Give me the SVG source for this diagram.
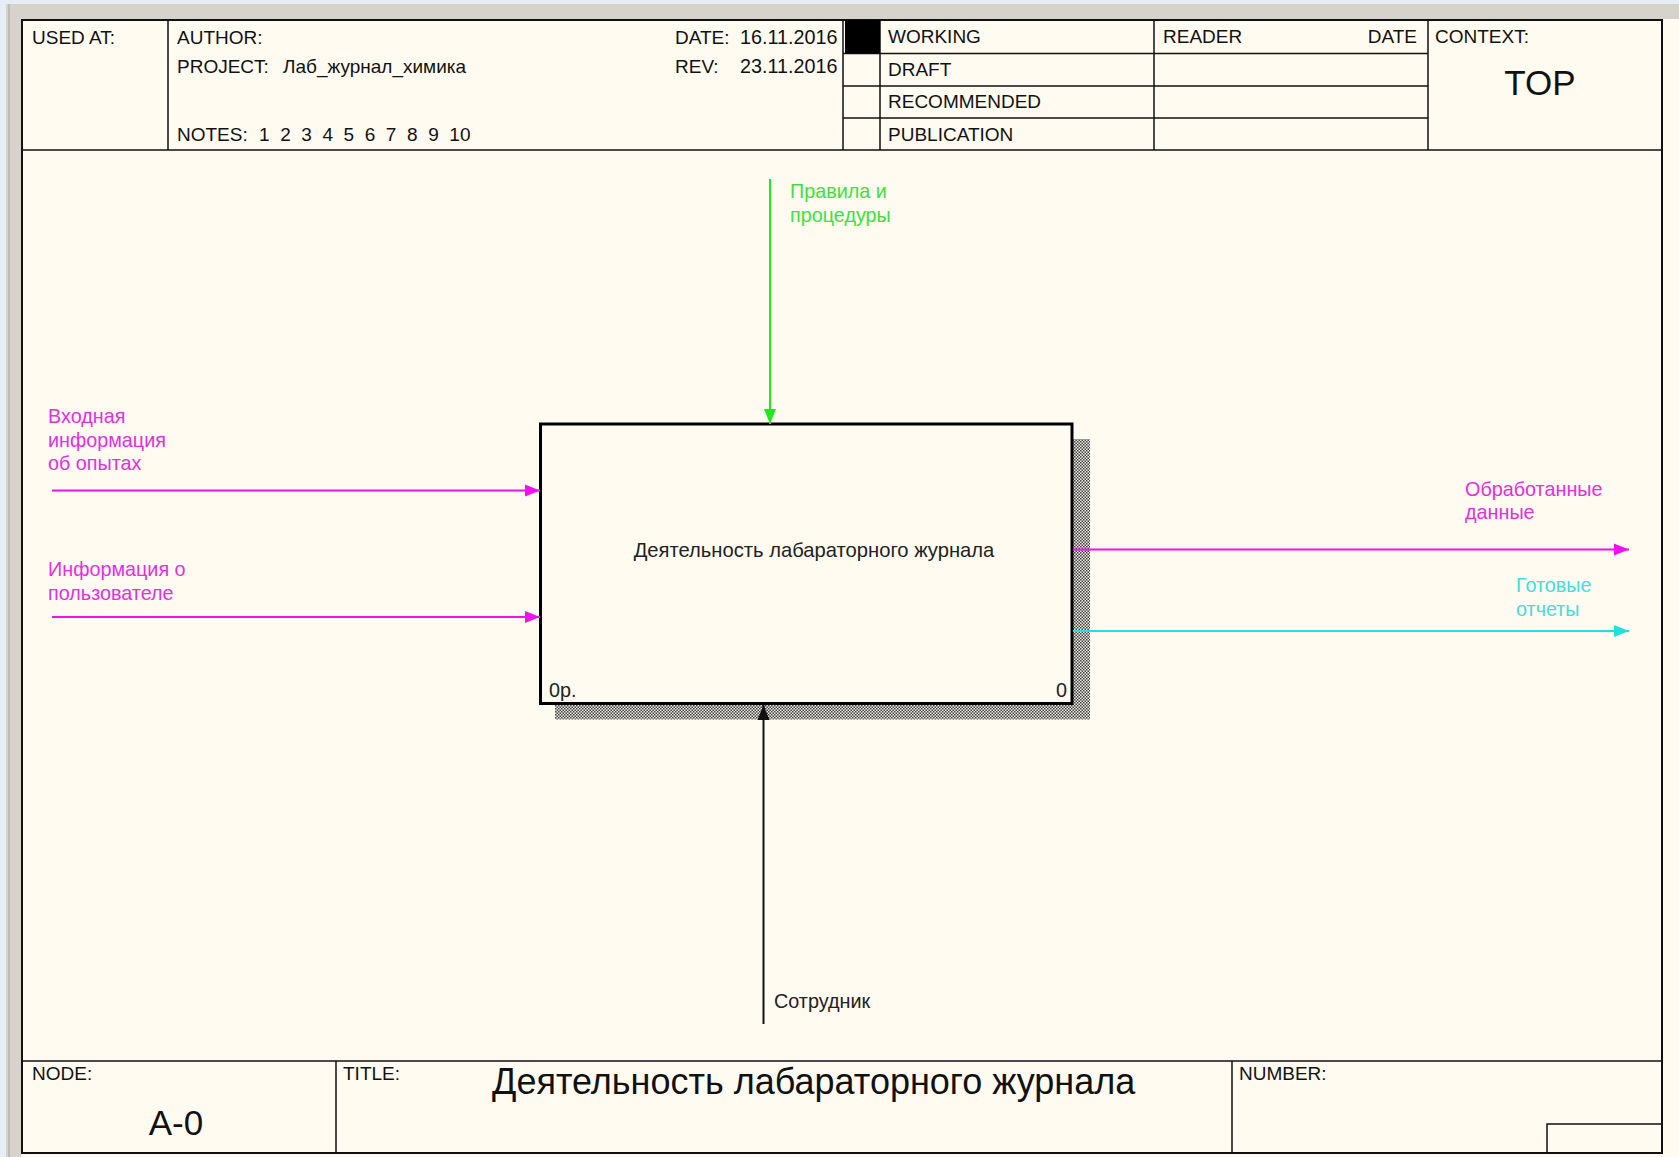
<svg xmlns="http://www.w3.org/2000/svg" width="1679" height="1157" viewBox="0 0 1679 1157">
<style>
.t{font-family:"Liberation Sans",Arial,sans-serif;font-size:19px;fill:#111}
.big{font-family:"Liberation Sans",Arial,sans-serif;font-size:35px;fill:#111}
.lbl{font-family:"Liberation Sans",Arial,sans-serif;font-size:19.8px}
.ln{stroke:#111;stroke-width:1.5;fill:none}
.mag{stroke:#f010f0;stroke-width:2;fill:none}
.cy{stroke:#22dede;stroke-width:2;fill:none}
.gr{stroke:#22e622;stroke-width:2;fill:none}
.bk{stroke:#111;stroke-width:2;fill:none}
</style>
<defs>
<pattern id="hatch" width="3" height="3" patternUnits="userSpaceOnUse">
<rect width="3" height="3" fill="#ece9e0"/>
<rect x="0" y="0" width="1.5" height="1.5" fill="#444"/>
<rect x="1.5" y="1.5" width="1.5" height="1.5" fill="#444"/>
</pattern>
<marker id="aM" markerUnits="userSpaceOnUse" markerWidth="16" markerHeight="14" refX="15" refY="7" orient="auto"><path d="M0,1 L15,7 L0,13 Z" fill="#f010f0"/></marker>
<marker id="aC" markerUnits="userSpaceOnUse" markerWidth="16" markerHeight="14" refX="15" refY="7" orient="auto"><path d="M0,1 L15,7 L0,13 Z" fill="#22dede"/></marker>
<marker id="aG" markerUnits="userSpaceOnUse" markerWidth="16" markerHeight="14" refX="15" refY="7" orient="auto"><path d="M0,1 L15,7 L0,13 Z" fill="#22e622"/></marker>
<marker id="aB" markerUnits="userSpaceOnUse" markerWidth="16" markerHeight="14" refX="15" refY="7" orient="auto"><path d="M0,1 L15,7 L0,13 Z" fill="#111"/></marker>
</defs>
<!-- window surround -->
<rect width="1679" height="1157" fill="#d6d3cc"/>
<rect width="1679" height="4" fill="#e6edf6"/>
<rect width="6" height="1157" fill="#e6edf6"/>
<line x1="9" y1="4" x2="9" y2="1157" stroke="#b8b5ae" stroke-width="1.5"/>
<rect x="21" y="19" width="1658" height="1138" fill="#fffbf1"/>
<!-- frame -->
<g id="frame">
<rect x="22" y="20" width="1640" height="1133" fill="none" stroke="#111" stroke-width="2"/>
<line class="ln" x1="22" y1="150" x2="1662" y2="150"/>
<line class="ln" x1="168" y1="20" x2="168" y2="150"/>
<line class="ln" x1="843" y1="20" x2="843" y2="150"/>
<line class="ln" x1="880" y1="20" x2="880" y2="150"/>
<line class="ln" x1="1154" y1="20" x2="1154" y2="150"/>
<line class="ln" x1="1428" y1="20" x2="1428" y2="150"/>
<line class="ln" x1="843" y1="53.5" x2="1428" y2="53.5"/>
<line class="ln" x1="843" y1="86" x2="1428" y2="86"/>
<line class="ln" x1="843" y1="118" x2="1428" y2="118"/>
<rect x="845" y="20" width="35" height="33.5" fill="#000"/>
<text class="t" x="32" y="44">USED AT:</text>
<text class="t" x="177" y="44">AUTHOR:</text>
<text class="t" x="177" y="73">PROJECT:</text>
<text class="t" x="283" y="73">Лаб_журнал_химика</text>
<text class="t" x="177" y="141">NOTES:</text>
<text class="t" x="259" y="141" word-spacing="5.3">1 2 3 4 5 6 7 8 9 10</text>
<text class="t" x="675" y="44">DATE:</text>
<text class="t" x="740" y="44" style="font-size:19.8px">16.11.2016</text>
<text class="t" x="675" y="73">REV:</text>
<text class="t" x="740" y="73" style="font-size:19.8px">23.11.2016</text>
<text class="t" x="888" y="43">WORKING</text>
<text class="t" x="888" y="76">DRAFT</text>
<text class="t" x="888" y="108">RECOMMENDED</text>
<text class="t" x="888" y="141">PUBLICATION</text>
<text class="t" x="1163" y="43">READER</text>
<text class="t" x="1417" y="43" text-anchor="end">DATE</text>
<text class="t" x="1435" y="43">CONTEXT:</text>
<text class="big" x="1540" y="95" text-anchor="middle">TOP</text>
<!-- footer -->
<line class="ln" x1="22" y1="1061" x2="1662" y2="1061"/>
<line class="ln" x1="336" y1="1061" x2="336" y2="1153"/>
<line class="ln" x1="1232" y1="1061" x2="1232" y2="1153"/>
<polyline class="ln" points="1547,1153 1547,1124 1662,1124"/>
<text class="t" x="32" y="1080">NODE:</text>
<text class="big" x="176" y="1135" text-anchor="middle">A-0</text>
<text class="t" x="343" y="1080">TITLE:</text>
<text class="big" x="492" y="1094" style="font-size:36px">Деятельность лабараторного журнала</text>
<text class="t" x="1239" y="1080">NUMBER:</text>
</g>
<!-- activity box -->
<g id="node-A0">
<path d="M1072,439 H1090 V719.5 H555 V703.5 H1072 Z" fill="url(#hatch)"/>
<rect x="540.5" y="424" width="531.5" height="279.5" fill="#fffbf1" stroke="#000" stroke-width="3"/>
<text class="lbl" x="814" y="557" text-anchor="middle" fill="#222" style="font-size:20.2px">Деятельность лабараторного журнала</text>
<text class="lbl" x="549" y="697" fill="#222">0р.</text>
<text class="lbl" x="1067" y="697" fill="#222" text-anchor="end">0</text>
</g>
<!-- connectors -->
<g id="connectors">
<line class="gr" x1="770" y1="179" x2="770" y2="424" marker-end="url(#aG)"/>
<line class="mag" x1="52" y1="490.5" x2="540" y2="490.5" marker-end="url(#aM)"/>
<line class="mag" x1="52" y1="617" x2="540" y2="617" marker-end="url(#aM)"/>
<line class="mag" x1="1073" y1="549.5" x2="1629" y2="549.5" marker-end="url(#aM)"/>
<line class="cy" x1="1073" y1="631" x2="1629" y2="631" marker-end="url(#aC)"/>
<line class="bk" x1="763.5" y1="1024" x2="763.5" y2="705" marker-end="url(#aB)"/>
</g>
<g id="labels">
<text class="lbl" fill="#3ee03e"><tspan x="790" y="198">Правила и</tspan><tspan x="790" y="222">процедуры</tspan></text>
<text class="lbl" fill="#e030e0"><tspan x="48" y="423">Входная</tspan><tspan x="48" y="447">информация</tspan><tspan x="48" y="470">об опытах</tspan></text>
<text class="lbl" fill="#e030e0"><tspan x="48" y="576">Информация о</tspan><tspan x="48" y="600">пользователе</tspan></text>
<text class="lbl" fill="#e030e0"><tspan x="1465" y="496">Обработанные</tspan><tspan x="1465" y="519">данные</tspan></text>
<text class="lbl" fill="#44dcdc"><tspan x="1516" y="592">Готовые</tspan><tspan x="1516" y="616">отчеты</tspan></text>
<text class="lbl" fill="#222" x="774" y="1008">Сотрудник</text>
</g>
</svg>
